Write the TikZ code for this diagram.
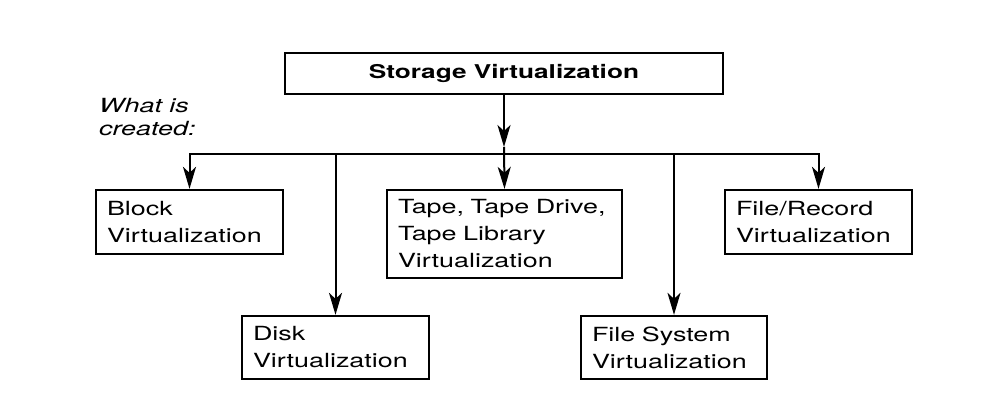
\documentclass[tikz,border=0pt]{standalone}
\usepackage{fontspec}
\newfontfamily\hv[FakeStretch=1.38]{TeX Gyre Heros}
\usetikzlibrary{arrows.meta}
\begin{document}
\begin{tikzpicture}[x=1pt,y=-1pt,
  box/.style={draw, line width=2.3pt, inner xsep=11pt, inner ysep=0pt, align=left,
    font=\hv\fontsize{19.5}{27}\selectfont},
  topbox/.style={draw, line width=2.3pt, inner sep=0pt, align=center,
    font=\hv\bfseries\fontsize{19}{24}\selectfont},
  note/.style={inner sep=0pt, align=left, anchor=base west,
    font=\hv\itshape\fontsize{19.5}{23.5}\selectfont},
  arr/.style={-{Stealth[length=22pt,width=13pt,inset=6pt]}, line width=2pt}]
\useasboundingbox (0,0) rectangle (1007,417);
\node[topbox, minimum width=438pt, minimum height=41pt] (top) at (504,73.5) {Storage Virtualization};
\node[note] (what) at (99,135.5) {What is\\created:};
\node[box, text width=165pt, minimum height=64pt] (block) at (189.5,222) {Block\\Virtualization};
\node[box, text width=213pt, minimum height=88pt] (tape) at (504.5,234) {Tape, Tape Drive,\\Tape Library\\Virtualization};
\node[box, text width=165pt, minimum height=64pt] (fr) at (818.5,222) {File/Record\\Virtualization};
\node[box, text width=165pt, minimum height=63pt] (disk) at (335.5,347.5) {Disk\\Virtualization};
\node[box, text width=164pt, minimum height=63pt] (fs) at (674,347.5) {File System\\Virtualization};
\coordinate (jt) at (504,147);
\coordinate (jm) at (504,154);
\coordinate (jd) at (335.5,154);
\coordinate (jf) at (674,154);
\draw[arr] (top.south) -- (jt);
\draw[arr] (jt) -- (tape.north);
\draw[arr] (jm) -| (block.north);
\draw[arr] (jm) -| (fr.north);
\draw[arr] (jd) -- (disk.north);
\draw[arr] (jf) -- (fs.north);
\end{tikzpicture}
\end{document}
